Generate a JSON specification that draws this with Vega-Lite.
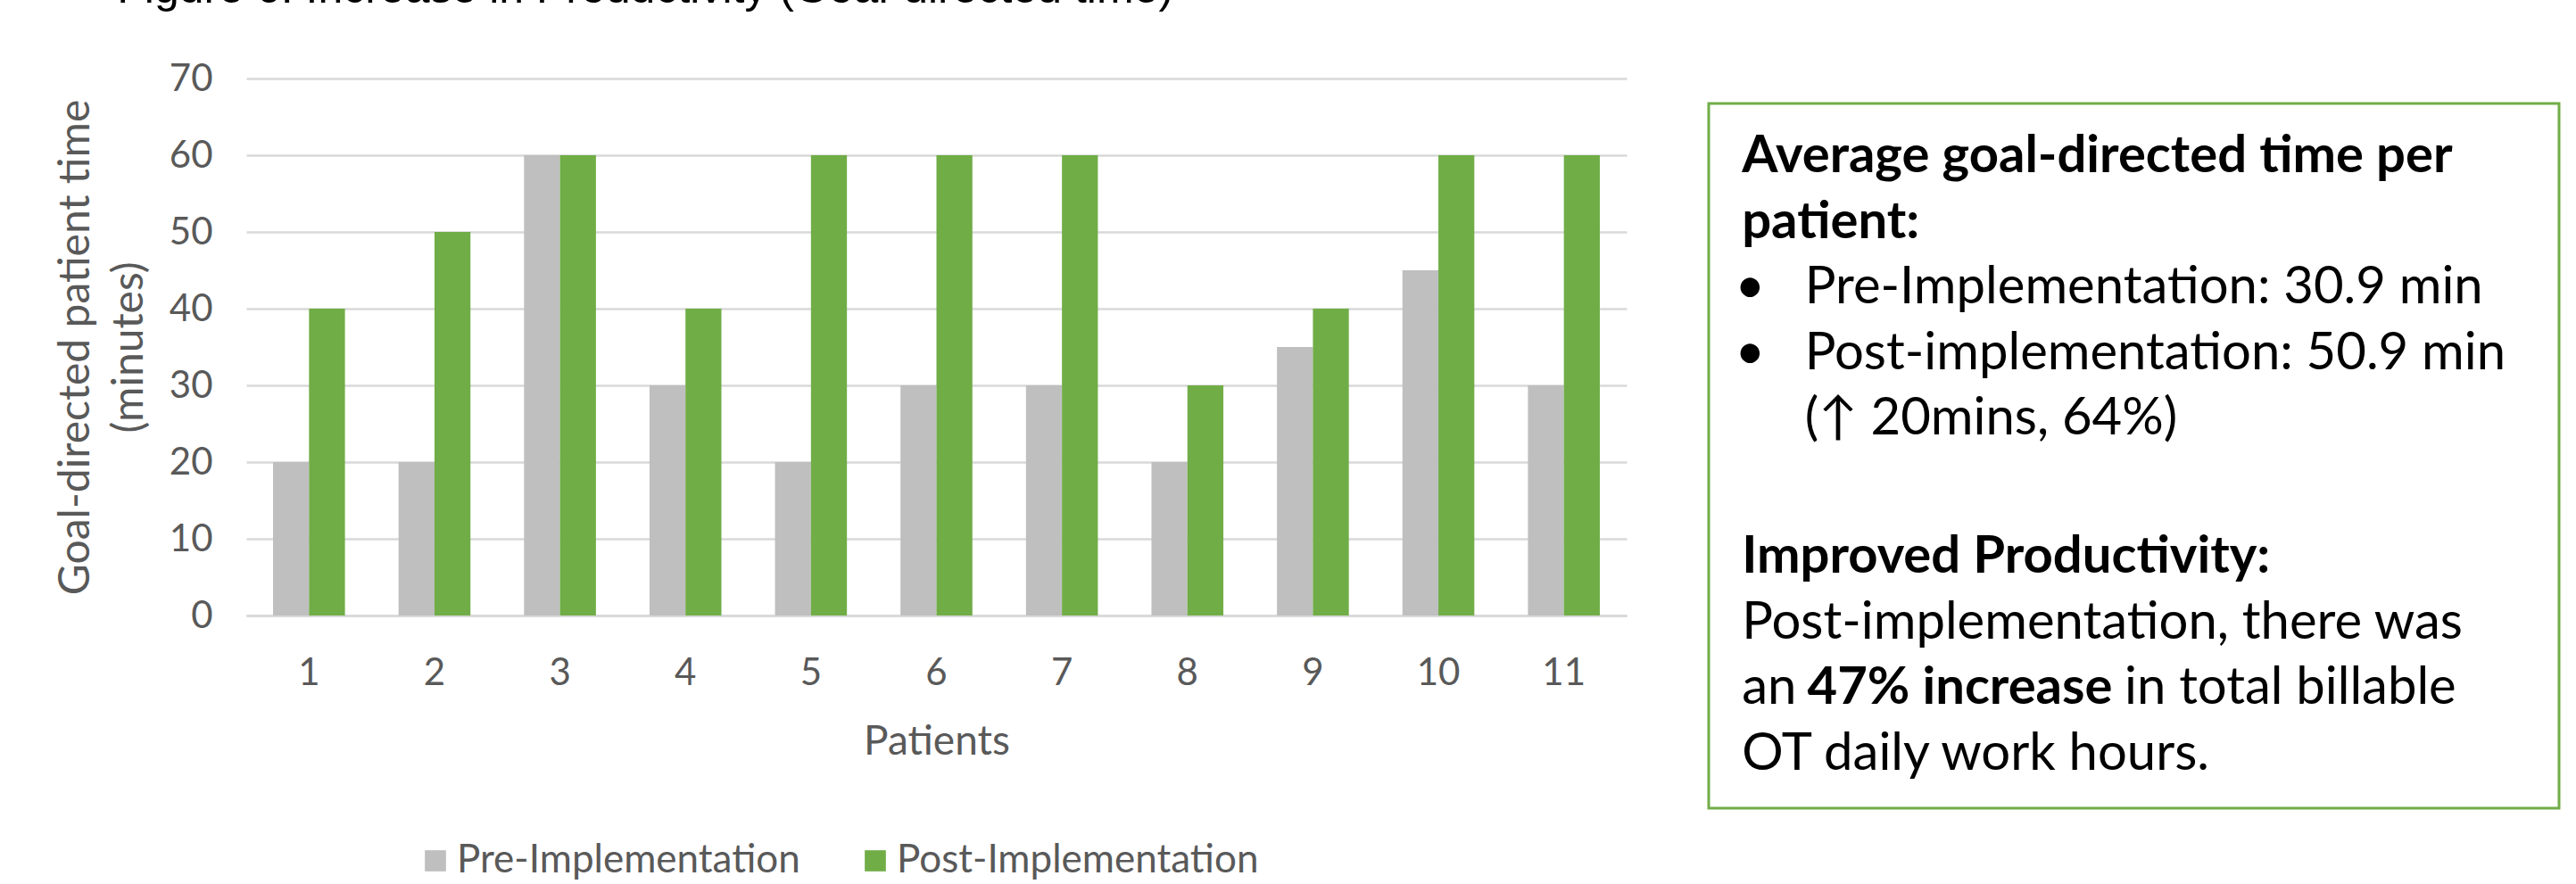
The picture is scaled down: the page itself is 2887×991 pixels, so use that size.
{
  "$schema": "https://vega.github.io/schema/vega-lite/v6.json",
  "autosize": {"type": "none"},
  "padding": {"left": 276, "top": 88, "right": 2611, "bottom": 903},
  "background": "white",
  "title": {
    "text": "Figure 6: Increase in Productivity (Goal-directed time)",
    "anchor": "start",
    "frame": "bounds",
    "font": "Liberation Sans",
    "fontSize": 50,
    "fontWeight": "normal",
    "color": "#000000",
    "baseline": "alphabetic",
    "offset": 14,
    "dx": 70
  },
  "config": {
    "font": "Lato",
    "view": {"stroke": null}
  },
  "bounds": "flush",
  "spacing": 92,
  "datasets": {
    "bars": [
      {"Patient": 1, "Phase": "Pre-Implementation", "Minutes": 20},
      {"Patient": 1, "Phase": "Post-Implementation", "Minutes": 40},
      {"Patient": 2, "Phase": "Pre-Implementation", "Minutes": 20},
      {"Patient": 2, "Phase": "Post-Implementation", "Minutes": 50},
      {"Patient": 3, "Phase": "Pre-Implementation", "Minutes": 60},
      {"Patient": 3, "Phase": "Post-Implementation", "Minutes": 60},
      {"Patient": 4, "Phase": "Pre-Implementation", "Minutes": 30},
      {"Patient": 4, "Phase": "Post-Implementation", "Minutes": 40},
      {"Patient": 5, "Phase": "Pre-Implementation", "Minutes": 20},
      {"Patient": 5, "Phase": "Post-Implementation", "Minutes": 60},
      {"Patient": 6, "Phase": "Pre-Implementation", "Minutes": 30},
      {"Patient": 6, "Phase": "Post-Implementation", "Minutes": 60},
      {"Patient": 7, "Phase": "Pre-Implementation", "Minutes": 30},
      {"Patient": 7, "Phase": "Post-Implementation", "Minutes": 60},
      {"Patient": 8, "Phase": "Pre-Implementation", "Minutes": 20},
      {"Patient": 8, "Phase": "Post-Implementation", "Minutes": 30},
      {"Patient": 9, "Phase": "Pre-Implementation", "Minutes": 35},
      {"Patient": 9, "Phase": "Post-Implementation", "Minutes": 40},
      {"Patient": 10, "Phase": "Pre-Implementation", "Minutes": 45},
      {"Patient": 10, "Phase": "Post-Implementation", "Minutes": 60},
      {"Patient": 11, "Phase": "Pre-Implementation", "Minutes": 30},
      {"Patient": 11, "Phase": "Post-Implementation", "Minutes": 60}
    ],
    "notes": [
      {"line": 0, "x": 3.9, "text": "Average goal-directed time per", "weight": "bold"},
      {"line": 1, "x": 3.9, "text": "patient:", "weight": "bold"},
      {"line": 2, "x": 3.1, "text": "•", "weight": "normal"},
      {"line": 2, "x": 11.3, "text": "Pre-Implementation: 30.9 min", "weight": "normal"},
      {"line": 3, "x": 3.1, "text": "•", "weight": "normal"},
      {"line": 3, "x": 11.3, "text": "Post-implementation: 50.9 min", "weight": "normal"},
      {"line": 4, "x": 11.3, "text": "(↑ 20mins, 64%)", "weight": "normal"},
      {"line": 6.1, "x": 3.9, "text": "Improved Productivity:", "weight": "bold"},
      {"line": 7.1, "x": 3.9, "text": "Post-implementation, there was", "weight": "normal"},
      {"line": 8.1, "x": 3.9, "text": "an", "weight": "normal"},
      {"line": 8.1, "x": 11.6, "text": "47% increase", "weight": "bold"},
      {"line": 8.1, "x": 48.9, "text": "in total billable", "weight": "normal"},
      {"line": 9.1, "x": 3.9, "text": "OT daily work hours.", "weight": "normal"}
    ]
  },
  "hconcat": [
    {
      "width": 1547,
      "height": 602,
      "data": {"name": "bars"},
      "mark": {"type": "bar"},
      "encoding": {
        "x": {
          "field": "Patient",
          "type": "ordinal",
          "scale": {"paddingInner": 0.427, "paddingOuter": 0.2135},
          "axis": {
            "title": "Patients",
            "titleFont": "Lato",
            "titleFontSize": 46,
            "titleFontWeight": "normal",
            "titleColor": "#595959",
            "titlePadding": 34,
            "labelAngle": 0,
            "labelFont": "Lato",
            "labelFontSize": 42,
            "labelColor": "#595959",
            "labelPadding": 44,
            "ticks": false,
            "domainColor": "#D9D9D9",
            "domainWidth": 3
          }
        },
        "xOffset": {
          "field": "Phase",
          "type": "nominal",
          "sort": ["Pre-Implementation", "Post-Implementation"],
          "scale": {"paddingInner": 0, "paddingOuter": 0}
        },
        "y": {
          "field": "Minutes",
          "type": "quantitative",
          "scale": {"domain": [0, 70], "nice": false},
          "axis": {
            "values": [0, 10, 20, 30, 40, 50, 60, 70],
            "title": ["Goal-directed patient time", "(minutes)"],
            "titleFont": "Lato",
            "titleFontSize": 48,
            "titleFontWeight": "normal",
            "titleColor": "#595959",
            "titleLineHeight": 60,
            "titlePadding": 20,
            "labelFont": "Lato",
            "labelFontSize": 42,
            "labelColor": "#595959",
            "labelPadding": 38,
            "ticks": false,
            "domain": false,
            "gridColor": "#D9D9D9",
            "gridWidth": 2.5
          }
        },
        "color": {
          "field": "Phase",
          "type": "nominal",
          "sort": ["Pre-Implementation", "Post-Implementation"],
          "scale": {"domain": ["Pre-Implementation", "Post-Implementation"], "range": ["#BFBFBF", "#70AD47"]},
          "legend": {
            "title": null,
            "orient": "none",
            "legendX": 190,
            "legendY": 855,
            "direction": "horizontal",
            "symbolType": "square",
            "symbolSize": 560,
            "symbolStrokeWidth": 0,
            "symbolOffset": 0,
            "labelFont": "Lato",
            "labelFontSize": 44,
            "labelColor": "#595959",
            "labelOffset": 2,
            "labelLimit": 0,
            "columnPadding": 62
          }
        }
      }
    },
    {
      "width": 953,
      "height": 818,
      "layer": [
        {
          "data": {"values": [{}]},
          "mark": {"type": "rect", "fill": "white", "fillOpacity": 0, "stroke": "#70AD47", "strokeWidth": 3},
          "encoding": {
            "x": {"datum": 0, "type": "quantitative", "scale": {"domain": [0, 100], "nice": false}, "axis": null},
            "x2": {"datum": 100},
            "y": {"datum": -1.046, "type": "quantitative", "scale": {"domain": [-1.426, 9.688], "nice": false, "zero": false, "reverse": true}, "axis": null},
            "y2": {"datum": 9.688}
          }
        },
        {
          "data": {"name": "notes"},
          "transform": [{"filter": "datum.weight === 'normal'"}],
          "mark": {"type": "text", "align": "left", "baseline": "alphabetic", "font": "Lato", "fontSize": 58, "color": "#000000"},
          "encoding": {
            "x": {"field": "x", "type": "quantitative"},
            "y": {"field": "line", "type": "quantitative"},
            "text": {"field": "text"}
          }
        },
        {
          "data": {"name": "notes"},
          "transform": [{"filter": "datum.weight === 'bold'"}],
          "mark": {"type": "text", "align": "left", "baseline": "alphabetic", "font": "Lato", "fontSize": 58, "fontWeight": "bold", "color": "#000000"},
          "encoding": {
            "x": {"field": "x", "type": "quantitative"},
            "y": {"field": "line", "type": "quantitative"},
            "text": {"field": "text"}
          }
        }
      ]
    }
  ]
}
